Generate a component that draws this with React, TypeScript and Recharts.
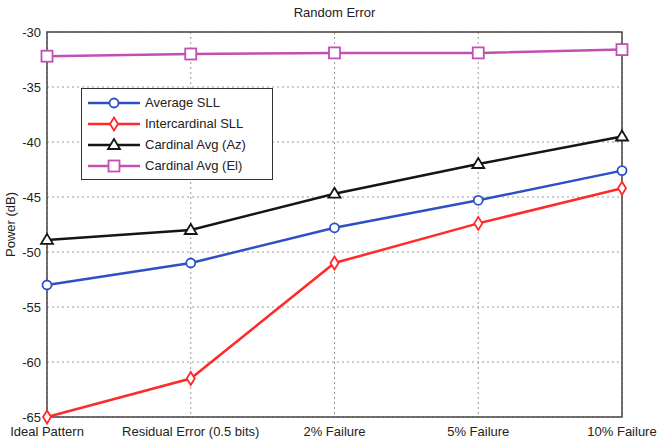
import React from "react";
import {
  LineChart,
  Line,
  XAxis,
  YAxis,
  CartesianGrid,
  ReferenceArea,
} from "recharts";

const categories = [
  "Ideal Pattern",
  "Residual Error (0.5 bits)",
  "2% Failure",
  "5% Failure",
  "10% Failure",
];
const averageSll = [-53, -51, -47.8, -45.3, -42.6];
const intercardinalSll = [-65, -61.5, -51, -47.4, -44.2];
const cardinalAz = [-48.9, -48, -44.7, -42, -39.5];
const cardinalEl = [-32.2, -32, -31.9, -31.9, -31.6];
const yTicks = [-65, -60, -55, -50, -45, -40, -35, -30];

const data = categories.map((name, i) => ({
  name,
  avg: averageSll[i],
  inter: intercardinalSll[i],
  az: cardinalAz[i],
  el: cardinalEl[i],
}));

const FONT = "'Liberation Sans', Arial, sans-serif";

type Shape = "circle" | "diamond" | "triangle" | "square";

const series: { key: string; label: string; color: string; shape: Shape }[] = [
  { key: "avg", label: "Average SLL", color: "#2f4fc4", shape: "circle" },
  { key: "inter", label: "Intercardinal SLL", color: "#ff2a2a", shape: "diamond" },
  { key: "az", label: "Cardinal Avg (Az)", color: "#151515", shape: "triangle" },
  { key: "el", label: "Cardinal Avg (El)", color: "#c24fb4", shape: "square" },
];

const Marker = ({ cx, cy, color, shape }: { cx: number; cy: number; color: string; shape: Shape }) => {
  const sw = 1.8;
  if (shape === "circle")
    return <circle cx={cx} cy={cy} r={4.5} fill="white" stroke={color} strokeWidth={sw} />;
  if (shape === "diamond")
    return (
      <polygon
        points={`${cx},${cy - 6.5} ${cx + 4},${cy} ${cx},${cy + 6.5} ${cx - 4},${cy}`}
        fill="white"
        stroke={color}
        strokeWidth={sw}
      />
    );
  if (shape === "triangle")
    return (
      <polygon
        points={`${cx},${cy - 6} ${cx + 6},${cy + 4} ${cx - 6},${cy + 4}`}
        fill="white"
        stroke={color}
        strokeWidth={sw}
      />
    );
  return <rect x={cx - 5.5} y={cy - 5.5} width={11} height={11} fill="white" stroke={color} strokeWidth={sw} />;
};

// legend drawn as a plain overlay so it doesn't steal plot space
const LegendBox = () => (
  <div
    style={{
      position: "absolute",
      left: 81,
      top: 88,
      width: 180,
      border: "1.5px solid #333",
      background: "white",
      padding: "3px 6px 3px 4px",
      fontFamily: FONT,
      fontSize: 13,
      color: "#222",
    }}
  >
    {series.map((s) => (
      <div key={s.key} style={{ display: "flex", alignItems: "center", height: 21 }}>
        <svg width={56} height={16}>
          <line x1={2} y1={8} x2={54} y2={8} stroke={s.color} strokeWidth={2.5} />
          <Marker cx={28} cy={8} color={s.color} shape={s.shape} />
        </svg>
        <span style={{ marginLeft: 3 }}>{s.label}</span>
      </div>
    ))}
  </div>
);

const App = () => {
  return (
    <div style={{ position: "absolute", left: 0, top: 0, width: 662, height: 442, background: "white" }}>
      <div
        style={{
          position: "absolute",
          left: 47,
          width: 575,
          top: 5,
          textAlign: "center",
          fontFamily: FONT,
          fontSize: 13,
          color: "#222",
        }}
      >
        Random Error
      </div>
      <LineChart
        width={662}
        height={442}
        data={data}
        margin={{ top: 32, right: 40, bottom: 0, left: 0 }}
      >
        <CartesianGrid stroke="#9a9a9a" strokeDasharray="2 3" />
        <XAxis
          dataKey="name"
          height={25}
          tickLine={false}
          axisLine={false}
          tickSize={3}
          tickMargin={7}
          interval={0}
          tick={{ fill: "#222", fontSize: 13, fontFamily: FONT }}
        />
        <YAxis
          width={47}
          domain={[-65, -30]}
          ticks={yTicks}
          tickLine={false}
          axisLine={false}
          tickSize={4}
          tickMargin={2}
          tick={{ fill: "#222", fontSize: 13, fontFamily: FONT }}
          label={{
            value: "Power (dB)",
            angle: -90,
            position: "insideLeft",
            offset: 10,
            style: { textAnchor: "middle", fontSize: 13, fontFamily: FONT, fill: "#222" },
          }}
        />
        <ReferenceArea y1={-65} y2={-30} fill="none" stroke="#444" strokeWidth={1.5} ifOverflow="visible" />
        {series.map((s) => (
          <Line
            key={s.key}
            type="linear"
            dataKey={s.key}
            name={s.label}
            stroke={s.color}
            strokeWidth={2.5}
            isAnimationActive={false}
            dot={(p: any) => (
              <Marker key={`${s.key}-${p.index}`} cx={p.cx} cy={p.cy} color={s.color} shape={s.shape} />
            )}
          />
        ))}
      </LineChart>
      <LegendBox />
    </div>
  );
};

export default App;
